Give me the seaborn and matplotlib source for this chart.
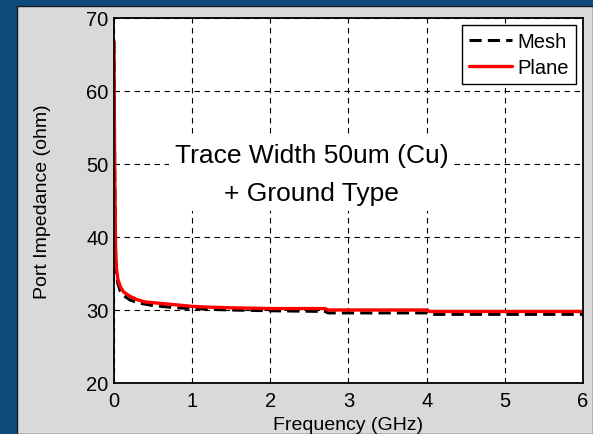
# Port impedance vs frequency, Mesh vs Plane ground (MATLAB look)

import seaborn as sns
import matplotlib
matplotlib.use('Agg')
import matplotlib.pyplot as plt
from matplotlib.patches import Rectangle
import pandas as pd

sns.set_style('white')
plt.rcParams['font.family'] = ['Liberation Sans', 'DejaVu Sans']
plt.rcParams['text.color'] = 'black'
plt.rcParams['axes.labelcolor'] = 'black'

freq = [0, 0.005, 0.01, 0.02, 0.03, 0.05, 0.08, 0.12, 0.2, 0.3, 0.4, 0.5,
        0.6, 0.8, 1.0, 1.2, 1.5, 2.0, 2.7, 2.74, 3.5, 4.0, 4.04, 5.0, 6.0]
plane = [66.8, 56.0, 48.0, 38.5, 35.8, 34.2, 33.2, 32.5, 31.9, 31.4, 31.1, 31.0,
         30.9, 30.7, 30.5, 30.4, 30.3, 30.2, 30.2, 30.0, 30.0, 30.0, 29.8, 29.8, 29.8]
mesh = [66.8, 55.5, 47.5, 38.0, 35.2, 33.6, 32.6, 32.0, 31.4, 31.0, 30.8, 30.6,
        30.5, 30.3, 30.2, 30.1, 30.0, 29.9, 29.8, 29.6, 29.6, 29.6, 29.4, 29.4, 29.4]

df_mesh = pd.DataFrame({'freq': freq, 'z': mesh})
df_plane = pd.DataFrame({'freq': freq, 'z': plane})

fig = plt.figure(figsize=(5.93, 4.35), dpi=100)
fig.patch.set_facecolor('#0f4a7d')
# grey MATLAB figure panel
fig.patches.append(Rectangle((17 / 593, 0), 1 - 17 / 593, 1 - 7 / 435,
                             transform=fig.transFigure, facecolor='#d9d9d9',
                             edgecolor='#1a1a1a', linewidth=1.0, zorder=-10))
ax = fig.add_axes([114 / 593, 51 / 435, 469 / 593, 365 / 435])
ax.set_zorder(5)
ax.set_facecolor('white')

sns.lineplot(x='freq', y='z', data=df_mesh, ax=ax, color='black', lw=2.2,
             label='Mesh', estimator=None)
ax.lines[-1].set_dashes((4, 2))
sns.lineplot(x='freq', y='z', data=df_plane, ax=ax, color='red', lw=2.4,
             label='Plane', estimator=None)

ax.set_xlim(0, 6)
ax.set_ylim(20, 70)
ax.set_xticks(range(0, 7))
ax.set_yticks(range(20, 71, 10))
ax.grid(True, color='black', linestyle=(0, (5, 4)), linewidth=0.8)
for s in ax.spines.values():
    s.set_color('black')
    s.set_linewidth(1.3)
ax.tick_params(direction='in', length=4, labelsize=14.5, colors='black')
ax.tick_params(axis='x', pad=6)
ax.tick_params(axis='y', pad=4)

ax.set_xlabel('Frequency (GHz)', fontsize=14, labelpad=4)
ax.set_ylabel('Port Impedance (ohm)', fontsize=14, labelpad=25)

ax.text(2.53, 48.6, 'Trace Width 50um (Cu)\n+ Ground Type', ha='center',
        va='center', fontsize=19, linespacing=1.75, color='black',
        bbox=dict(facecolor='white', edgecolor='none', pad=4))

leg = ax.legend(loc='upper right', fontsize=14.5, frameon=True, fancybox=False,
                handlelength=2.15, handletextpad=0.25, borderaxespad=0.35,
                borderpad=0.35, labelspacing=0.35, framealpha=1)
leg.get_frame().set_edgecolor('black')
leg.get_frame().set_linewidth(1.0)

plt.savefig('out.png', dpi=100, facecolor=fig.get_facecolor())
